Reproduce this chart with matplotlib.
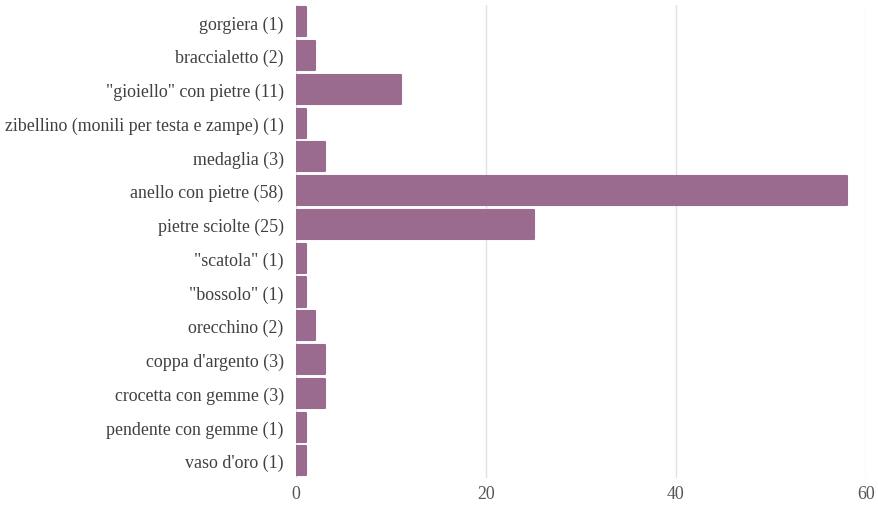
import matplotlib
matplotlib.use("Agg")
import matplotlib.pyplot as plt

categories = ["gorgiera (1)", "braccialetto (2)", "\"gioiello\" con pietre (11)",
              "zibellino (monili per testa e zampe) (1)", "medaglia (3)",
              "anello con pietre (58)", "pietre sciolte (25)", "\"scatola\" (1)",
              "\"bossolo\" (1)", "orecchino (2)", "coppa d'argento (3)",
              "crocetta con gemme (3)", "pendente con gemme (1)", "vaso d'oro (1)"]
values = [1, 2, 11, 1, 3, 58, 25, 1, 1, 2, 3, 3, 1, 1]
xticks = [0, 20, 40, 60]

plt.rcParams['font.family'] = ['Liberation Serif', 'DejaVu Serif']
fig = plt.figure(figsize=(8.79, 5.06), dpi=100)
ax = fig.add_axes([0.337, 0.054, 0.648, 0.934])
color = "#9b6b8f"
ypos = list(range(len(categories)))
ax.barh(ypos, values, height=0.86, color=color, edgecolor=color, linewidth=1.5,
        joinstyle='round', zorder=3)
ax.set_ylim(len(categories) - 0.5, -0.5)
ax.set_xlim(0, 60)
ax.set_xticks(xticks)
ax.set_yticks(ypos)
ax.set_yticklabels(categories, fontsize=12.9, color="#404040")
ax.tick_params(axis='x', labelsize=12.9, colors="#555555", length=0, pad=5)
ax.tick_params(axis='y', length=0, pad=9)
ax.grid(axis='x', color="#e2e2e2", linewidth=1, zorder=0)
for s in ax.spines.values():
    s.set_visible(False)
fig.savefig("out.png", dpi=100)
